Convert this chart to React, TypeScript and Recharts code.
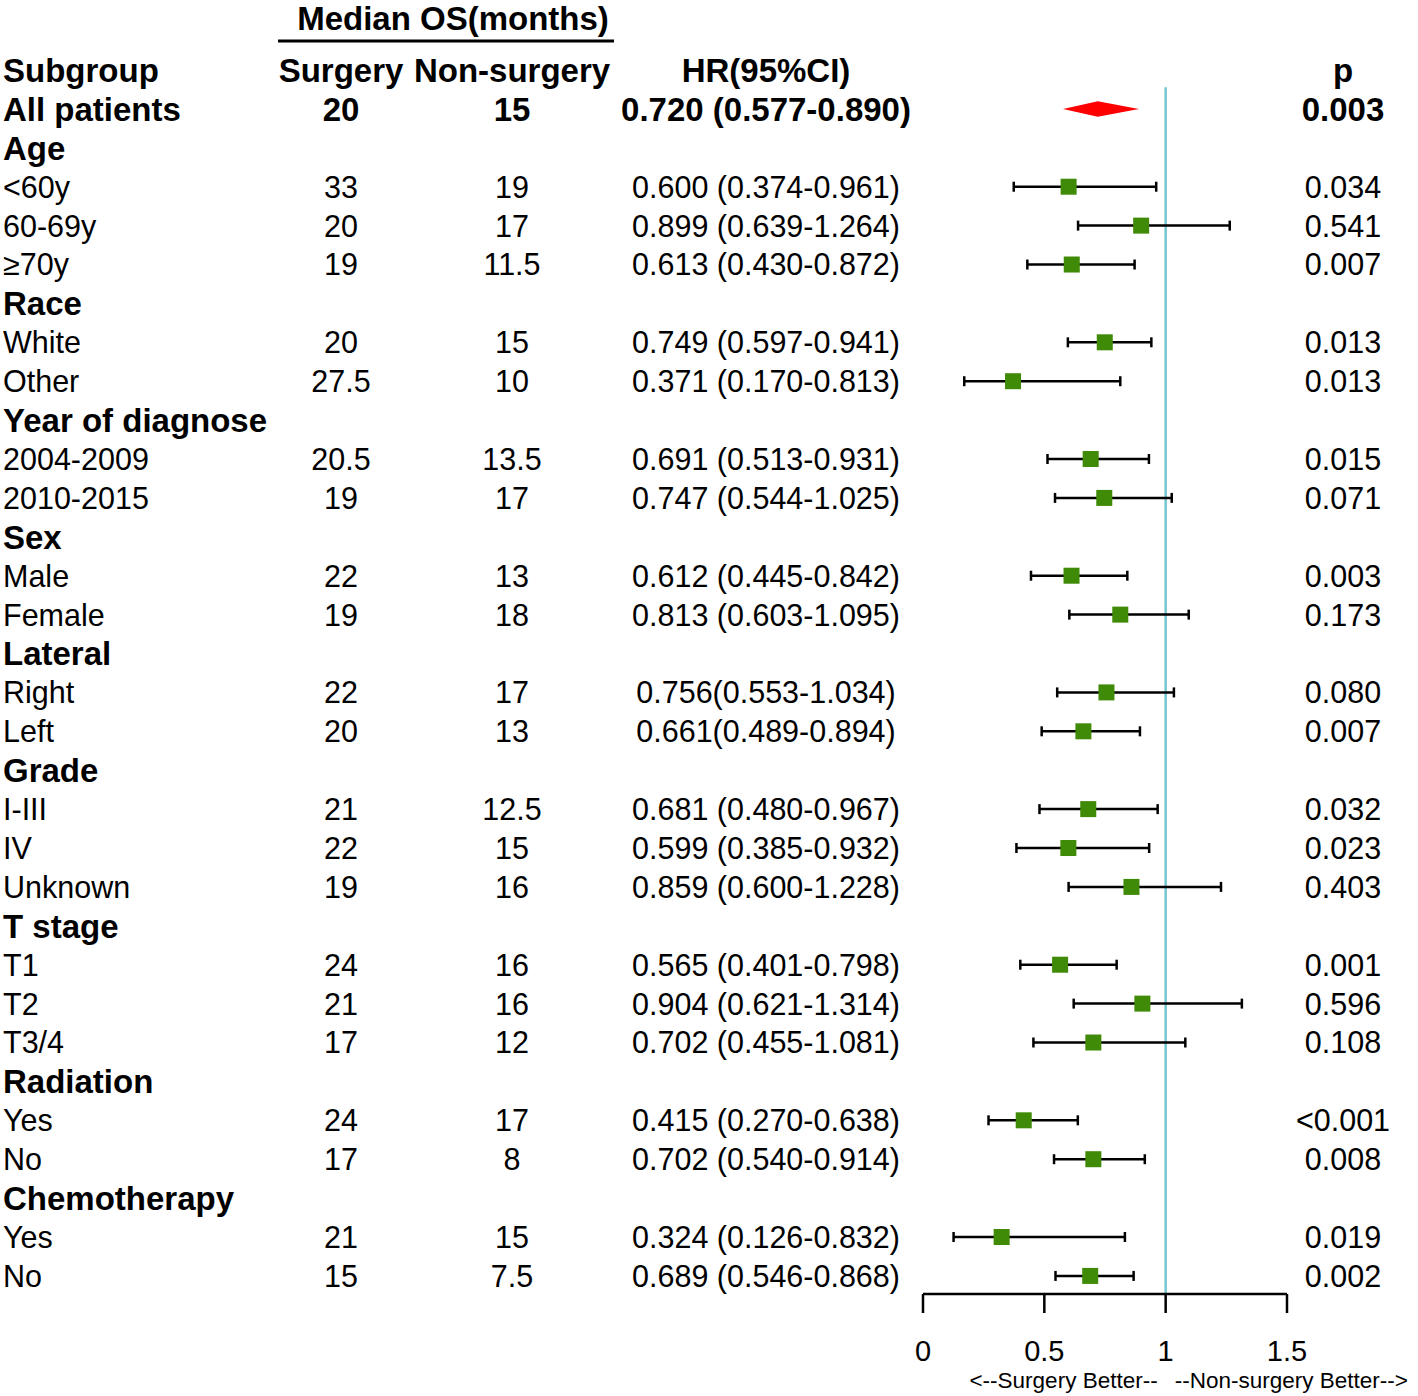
import React from 'react';
import { ScatterChart, Scatter, XAxis, YAxis, ErrorBar, ReferenceLine, ReferenceArea, Label } from 'recharts';

const subgroups = ['All patients', 'Age', '<60y', '60-69y', '≥70y', 'Race', 'White', 'Other', 'Year of diagnose', '2004-2009', '2010-2015', 'Sex', 'Male', 'Female', 'Lateral', 'Right', 'Left', 'Grade', 'I-III', 'IV', 'Unknown', 'T stage', 'T1', 'T2', 'T3/4', 'Radiation', 'Yes', 'No', 'Chemotherapy', 'Yes', 'No'];
const surgery = [20, null, 33, 20, 19, null, 20, 27.5, null, 20.5, 19, null, 22, 19, null, 22, 20, null, 21, 22, 19, null, 24, 21, 17, null, 24, 17, null, 21, 15];
const nonSurgery = [15, null, 19, 17, 11.5, null, 15, 10, null, 13.5, 17, null, 13, 18, null, 17, 13, null, 12.5, 15, 16, null, 16, 16, 12, null, 17, 8, null, 15, 7.5];
const hazard = [0.720, null, 0.600, 0.899, 0.613, null, 0.749, 0.371, null, 0.691, 0.747, null, 0.612, 0.813, null, 0.756, 0.661, null, 0.681, 0.599, 0.859, null, 0.565, 0.904, 0.702, null, 0.415, 0.702, null, 0.324, 0.689];
const lower = [0.577, null, 0.374, 0.639, 0.430, null, 0.597, 0.170, null, 0.513, 0.544, null, 0.445, 0.603, null, 0.553, 0.489, null, 0.480, 0.385, 0.600, null, 0.401, 0.621, 0.455, null, 0.270, 0.540, null, 0.126, 0.546];
const upper = [0.890, null, 0.961, 1.264, 0.872, null, 0.941, 0.813, null, 0.931, 1.025, null, 0.842, 1.095, null, 1.034, 0.894, null, 0.967, 0.932, 1.228, null, 0.798, 1.314, 1.081, null, 0.638, 0.914, null, 0.832, 0.868];
const pValues = ['0.003', '', '0.034', '0.541', '0.007', '', '0.013', '0.013', '', '0.015', '0.071', '', '0.003', '0.173', '', '0.080', '0.007', '', '0.032', '0.023', '0.403', '', '0.001', '0.596', '0.108', '', '<0.001', '0.008', '', '0.019', '0.002'];
// the two Lateral rows are printed without a space before the bracket
const compactHr = [15, 16];
const xTicks = [0, 0.5, 1, 1.5];

const FONT = '"Liberation Sans", Arial, sans-serif';
const COL_SURGERY = 341;
const COL_NON = 512;
const COL_HR = 766;
const COL_P = 1343;

const rowTicks = [0, ...subgroups.map((_, i) => i + 1)];

const points = subgroups
    .map((_, i) => ({
        row: i + 1,
        hr: hazard[i],
        err: hazard[i] != null ? [hazard[i]! - lower[i]!, upper[i]! - hazard[i]!] : null,
    }))
    .filter((d, i) => i > 0 && d.hr != null);

function hrText(i: number) {
    const sep = compactHr.includes(i) ? '' : ' ';
    return `${hazard[i]!.toFixed(3)}${sep}(${lower[i]!.toFixed(3)}-${upper[i]!.toFixed(3)})`;
}

function RowTick(props: any) {
    const { y, payload } = props;
    const v = payload.value;
    if (v === 0) {
        const b = y + 11.8;
        return (
            <g fontFamily={FONT} fontWeight="bold" fontSize={33} fill="#000">
                <text x={453} y={y - 40} textAnchor="middle">Median OS(months)</text>
                <line x1={278} x2={614} y1={y - 29} y2={y - 29} stroke="#000" strokeWidth={3} />
                <text x={3} y={b}>Subgroup</text>
                <text x={COL_SURGERY} y={b} textAnchor="middle">Surgery</text>
                <text x={COL_NON} y={b} textAnchor="middle">Non-surgery</text>
                <text x={COL_HR} y={b} textAnchor="middle">HR(95%CI)</text>
                <text x={COL_P} y={b} textAnchor="middle">p</text>
            </g>
        );
    }
    const i = v - 1;
    const bold = i === 0 || hazard[i] == null;
    const size = bold ? 33 : 30.5;
    const b = y + size * 0.358;
    return (
        <g fontFamily={FONT} fontWeight={bold ? 'bold' : 'normal'} fontSize={size} fill="#000">
            <text x={3} y={b}>{subgroups[i]}</text>
            {surgery[i] != null && <text x={COL_SURGERY} y={b} textAnchor="middle">{surgery[i]}</text>}
            {nonSurgery[i] != null && <text x={COL_NON} y={b} textAnchor="middle">{nonSurgery[i]}</text>}
            {hazard[i] != null && <text x={COL_HR} y={b} textAnchor="middle">{hrText(i)}</text>}
            {pValues[i] && <text x={COL_P} y={b} textAnchor="middle">{pValues[i]}</text>}
        </g>
    );
}

function AxisTick(props: any) {
    const { x, y, payload } = props;
    return (
        <text x={x} y={y + 46} textAnchor="middle" fontFamily={FONT} fontSize={29} fill="#000">
            {payload.value}
        </text>
    );
}

function BetterLabel(props: any) {
    const { x, y, width } = props.viewBox;
    const oneX = x + width / 1.5;
    return (
        <g fontFamily={FONT} fontSize={22.5} fill="#000">
            <text x={oneX - 8} y={y + 94} textAnchor="end">{'<--Surgery Better--'}</text>
            <text x={oneX + 9} y={y + 94}>{'--Non-surgery Better-->'}</text>
        </g>
    );
}

const Square = (props: any) => {
    const { cx, cy } = props;
    return <rect x={cx - 8} y={cy - 8} width={16} height={16} fill="#3f8a06" />;
};

const Diamond = (props: any) => {
    const { x, y, width, height } = props;
    const f = (hazard[0]! - lower[0]!) / (upper[0]! - lower[0]!);
    const pts = [
        [x, y + height / 2],
        [x + width * f, y],
        [x + width, y + height / 2],
        [x + width * f, y + height],
    ].map(p => p.join(',')).join(' ');
    return <polygon points={pts} fill="#ff0000" />;
};

export default function App() {
    return (
        <div style={{ position: 'absolute', left: 0, top: 0, background: '#fff' }}>
            <ScatterChart width={1418} height={1396} margin={{ top: 0, right: 131, bottom: 0, left: 0 }}>
                <XAxis
                    type="number"
                    dataKey="hr"
                    domain={[0, 1.5]}
                    ticks={xTicks}
                    allowDataOverflow
                    height={102}
                    tickSize={19}
                    tickMargin={2}
                    axisLine={{ stroke: '#000', strokeWidth: 2.5 }}
                    tickLine={{ stroke: '#000', strokeWidth: 2.5 }}
                    tick={<AxisTick />}
                >
                    <Label content={<BetterLabel />} />
                </XAxis>
                <YAxis
                    type="number"
                    dataKey="row"
                    domain={[-1.8, 31.465]}
                    reversed
                    allowDataOverflow
                    ticks={rowTicks}
                    interval={0}
                    width={923}
                    axisLine={false}
                    tickLine={false}
                    tick={<RowTick />}
                />
                <ReferenceLine
                    segment={[{ x: 1, y: 0.44 }, { x: 1, y: 31.465 }]}
                    stroke="#74c6d0"
                    strokeWidth={2.5}
                />
                <ReferenceArea
                    x1={lower[0]!}
                    x2={upper[0]!}
                    y1={0.8}
                    y2={1.2}
                    shape={<Diamond />}
                />
                <Scatter data={points} shape={<Square />} isAnimationActive={false}>
                    <ErrorBar dataKey="err" direction="x" width={5} stroke="#000" strokeWidth={2.5} />
                </Scatter>
            </ScatterChart>
        </div>
    );
}
